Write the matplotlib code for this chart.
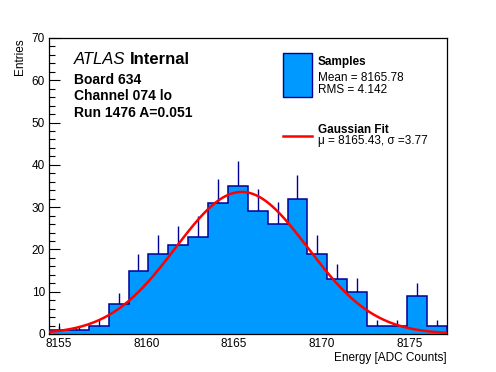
import numpy as np
import matplotlib
matplotlib.use("Agg")
import matplotlib.pyplot as plt
from matplotlib.ticker import MultipleLocator
from matplotlib.patches import Rectangle
from matplotlib.lines import Line2D

plt.rcParams['font.family'] = ['Liberation Sans', 'DejaVu Sans']

# histogram data (20 bins)
bin_counts = [1, 1, 2, 7, 15, 19, 21, 23, 31, 35, 29, 26, 32, 19, 13, 10, 2, 2, 9, 2]
hist_range = (8154.45, 8177.1)

# gaussian fit result
fit_const = 33.6
fit_mu = 8165.43
fit_sigma = 3.77

info_lines = ["Board 634", "Channel 074 lo", "Run 1476 A=0.051"]
samples_stats = ["Mean = 8165.78", "RMS = 4.142"]
fit_stats = "\u03bc = 8165.43, \u03c3 =3.77"

fill_col = '#0099ff'
edge_col = '#000099'

W, H = 496, 372
fig = plt.figure(figsize=(W / 100, H / 100), dpi=100)
ax = fig.add_axes([49 / W, 1 - 334 / H, (446.5 - 49) / W, (334 - 38) / H])

counts = np.array(bin_counts, dtype=float)
edges = np.linspace(hist_range[0], hist_range[1], len(counts) + 1)
centers = 0.5 * (edges[:-1] + edges[1:])
errs = np.sqrt(counts)

ax.vlines(centers, counts - errs, counts + errs, color=edge_col, lw=1, zorder=1)
ax.stairs(counts, edges, fill=True, color=fill_col, zorder=2)
ax.stairs(counts, edges, color=edge_col, lw=1.1, zorder=3)

xs = np.linspace(hist_range[0], hist_range[1], 500)
ax.plot(xs, fit_const * np.exp(-0.5 * ((xs - fit_mu) / fit_sigma) ** 2),
        color='red', lw=1.8, zorder=4)

ax.set_xlim(*hist_range)
ax.set_ylim(0, 70)
ax.xaxis.set_major_locator(MultipleLocator(5))
ax.xaxis.set_minor_locator(MultipleLocator(1))
ax.yaxis.set_major_locator(MultipleLocator(10))
ax.yaxis.set_minor_locator(MultipleLocator(2))
ax.tick_params(which='both', direction='in', top=False, right=False,
               labelsize=8.5, width=0.8)
ax.tick_params(which='major', length=8, pad=3)
ax.tick_params(which='minor', length=4)
for s in ax.spines.values():
    s.set_linewidth(0.9)

ax.set_xlabel('Energy [ADC Counts]', loc='right', fontsize=8.5, labelpad=1)
ax.set_ylabel('Entries', loc='top', fontsize=8.5, labelpad=4)


def fx(px):
    return px / W


def fy(py):
    return 1 - py / H


atlas = fig.text(fx(74), fy(63.5), 'ATLAS', fontsize=12, style='italic', va='baseline')
renderer = fig.canvas.get_renderer()
atlas_w = atlas.get_window_extent(renderer).width
fig.text(fx(74 + atlas_w + 4), fy(63.5), 'Internal', fontsize=12, weight='bold', va='baseline')
for i, t in enumerate(info_lines):
    fig.text(fx(74), fy(83.5 + 16.7 * i), t, fontsize=10, weight='bold', va='baseline')

# legend
fig.patches.append(Rectangle((fx(283), fy(96.7)), fx(311.5) - fx(283), fy(53.3) - fy(96.7),
                             transform=fig.transFigure, facecolor=fill_col,
                             edgecolor=edge_col, lw=1))
fig.text(fx(317.5), fy(65), 'Samples', fontsize=8.5, weight='bold', va='baseline')
fig.text(fx(317.5), fy(80.7), samples_stats[0], fontsize=8.5, va='baseline')
fig.text(fx(317.5), fy(93.3), samples_stats[1], fontsize=8.5, va='baseline')

fig.lines.append(Line2D([fx(283), fx(311.5)], [fy(136), fy(136)],
                        transform=fig.transFigure, color='red', lw=1.8))
fig.text(fx(317.5), fy(132.7), 'Gaussian Fit', fontsize=8.5, weight='bold', va='baseline')
fig.text(fx(317.5), fy(144), fit_stats, fontsize=8.5, va='baseline')

fig.savefig('out.png', dpi=100)
